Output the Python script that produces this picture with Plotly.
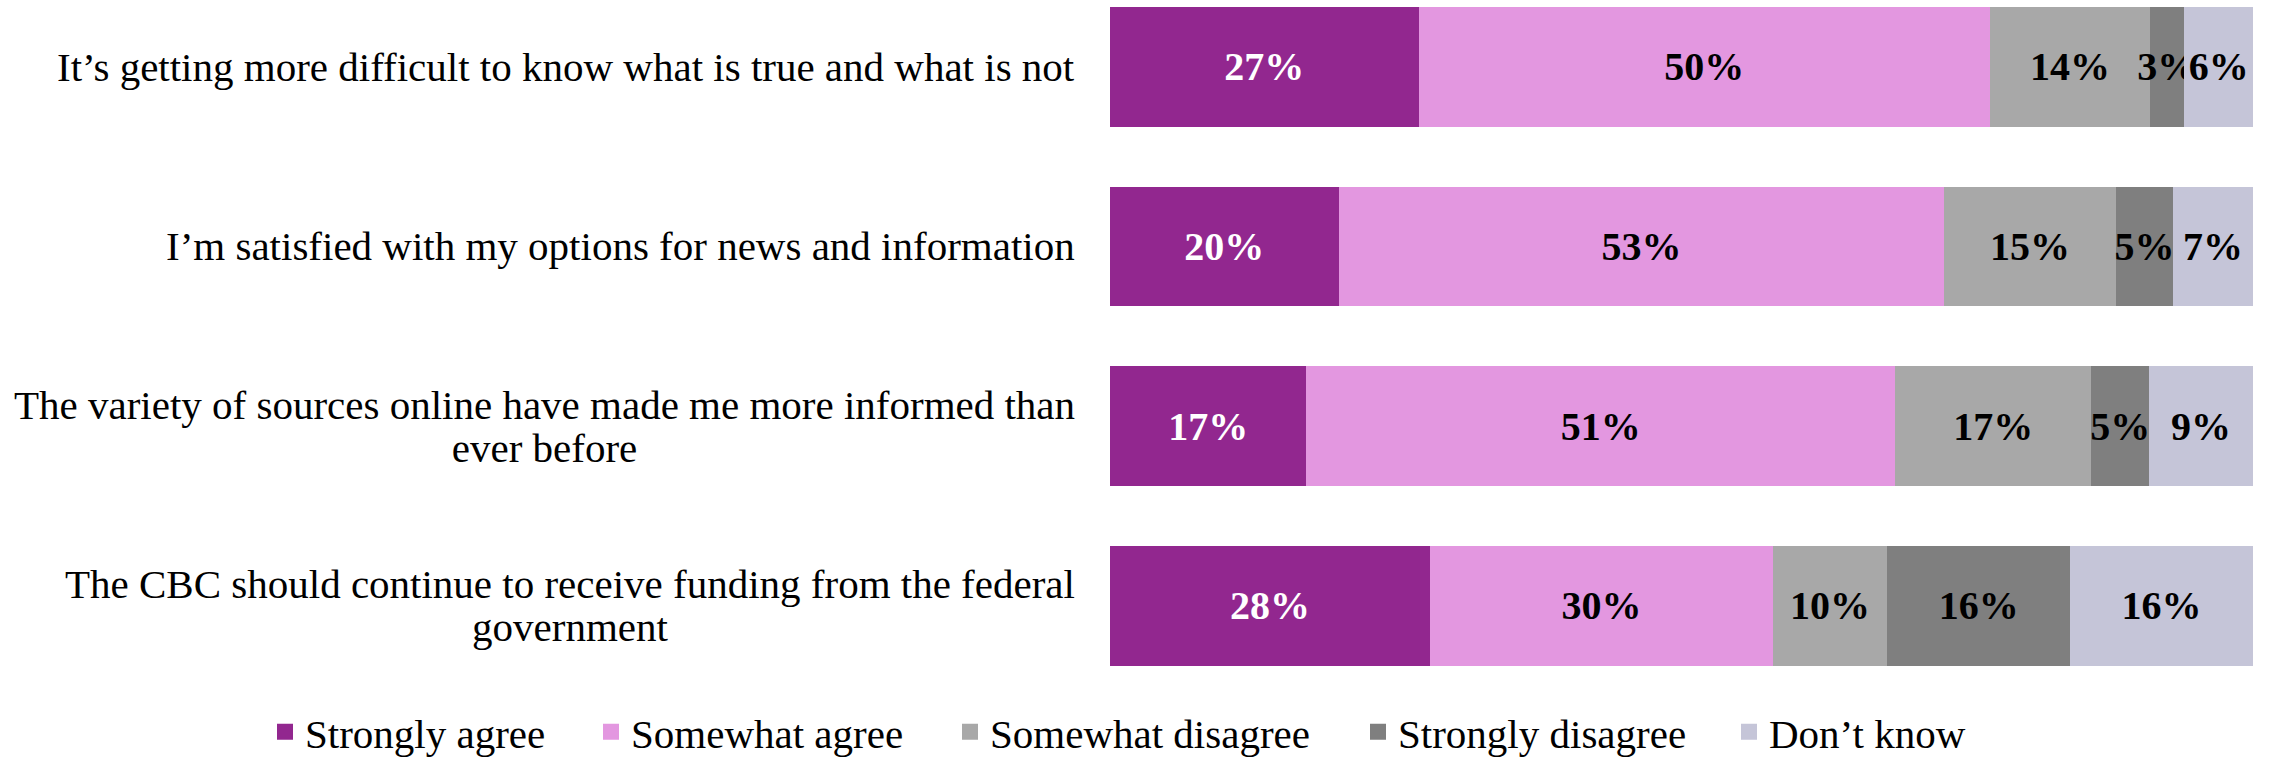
import plotly.graph_objects as go

# Survey statements (top to bottom)
statements = [
    "It\u2019s getting more difficult to know what is true and what is not",
    "I\u2019m satisfied with my options for news and information",
    "The variety of sources online have made me more informed than<br>ever before",
    "The CBC should continue to receive funding from the federal<br>government",
]

responses = ["Strongly agree", "Somewhat agree", "Somewhat disagree",
             "Strongly disagree", "Don\u2019t know"]

strongly_agree = [27, 20, 17, 28]
somewhat_agree = [50, 53, 51, 30]
somewhat_disagree = [14, 15, 17, 10]
strongly_disagree = [3, 5, 5, 16]
dont_know = [6, 7, 9, 16]

series = [strongly_agree, somewhat_agree, somewhat_disagree,
          strongly_disagree, dont_know]
colors = ["#92278F", "#E397E0", "#A8A8A8", "#7F7F7F", "#C5C5D8"]
text_colors = ["white", "black", "black", "black", "black"]

# left edge (px) of each legend entry along the bottom row
legend_left_px = [265, 591, 950, 1358, 1729]

SERIF = "Liberation Serif"
W, H = 2270, 759
positions = list(range(len(statements)))

fig = go.Figure()
for i, (name, vals, col, tcol) in enumerate(zip(responses, series, colors, text_colors)):
    fig.add_trace(go.Bar(
        y=positions, x=vals, orientation="h", name=name,
        marker=dict(color=col, line=dict(width=0)),
        width=0.667,
        text=[f"{v}%" for v in vals],
        textposition="inside", insidetextanchor="middle",
        textangle=0, constraintext="none",
        textfont=dict(family=SERIF, size=40, color=tcol, weight="bold"),
        showlegend=False, hoverinfo="skip",
    ))
    # legend entry with a square swatch, one legend per response
    lg = "legend" if i == 0 else f"legend{i + 1}"
    fig.add_trace(go.Scatter(
        x=[None], y=[None], mode="markers", name=name,
        marker=dict(symbol="square", size=20, color=col),
        showlegend=True, legend=lg,
    ))
    fig.update_layout({lg: dict(
        orientation="h", xref="container", yref="container",
        x=legend_left_px[i] / W, xanchor="left",
        y=(H - 732) / H, yanchor="middle",
        font=dict(family=SERIF, size=41, color="black"),
        bgcolor="rgba(0,0,0,0)", borderwidth=0,
    )})

# statement labels: tighter line spacing via a small base font with large spans
for pos, label in zip(positions, statements):
    lines = label.split("<br>")
    text = "<br>".join(f'<span style="font-size:41px">{ln}</span>' for ln in lines)
    fig.add_annotation(
        x=0, xref="paper", y=pos, yref="y",
        xanchor="right", yanchor="middle", xshift=-33,
        text=text, showarrow=False, align="center",
        font=dict(family=SERIF, size=33, color="black"),
    )

fig.update_layout(
    width=W, height=H,
    margin=dict(l=1110, r=17, t=0, b=59),
    barmode="stack", barnorm="percent",
    plot_bgcolor="white", paper_bgcolor="white",
    xaxis=dict(visible=False, range=[0, 100], fixedrange=True),
    yaxis=dict(visible=False, range=[3.517, -0.372], fixedrange=True),
    showlegend=True,
)

fig.write_html("out.html")
